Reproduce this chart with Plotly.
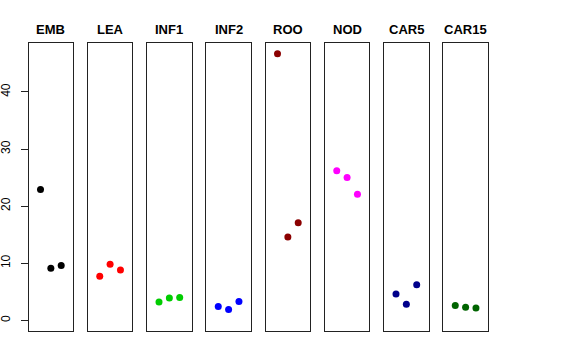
import plotly.graph_objects as go

categories = ["EMB", "LEA", "INF1", "INF2", "ROO", "NOD", "CAR5", "CAR15"]
replicate = [1, 2, 3]
values = {
    "EMB": [22.9, 9.1, 9.6],
    "LEA": [7.7, 9.8, 8.8],
    "INF1": [3.2, 3.9, 4.0],
    "INF2": [2.4, 1.9, 3.3],
    "ROO": [46.7, 14.6, 17.1],
    "NOD": [26.2, 25.0, 22.1],
    "CAR5": [4.6, 2.8, 6.25],
    "CAR15": [2.6, 2.3, 2.15],
}
colors = ["#000000", "#FF0000", "#00CD00", "#0000FF", "#8B0000", "#FF00FF", "#00008B", "#006400"]
y_ticks = [0, 10, 20, 30, 40]

W, H = 576, 360
left0, step, pw = 28.5, 59.25, 44.7
ytop, ybot = 43, 331
y_dom = [(H - ybot) / H, (H - ytop) / H]

fig = go.Figure()
for i, cat in enumerate(categories):
    n = i + 1
    xa = "x" if n == 1 else f"x{n}"
    ya = "y" if n == 1 else f"y{n}"
    fig.add_trace(go.Scatter(
        x=replicate, y=values[cat], mode="markers",
        marker=dict(color=colors[i], size=7, line=dict(width=0)),
        xaxis=xa, yaxis=ya, showlegend=False, hoverinfo="skip"))
    l = left0 + step * i
    xd = [l / W, (l + pw) / W]
    axkey = "xaxis" if n == 1 else f"xaxis{n}"
    aykey = "yaxis" if n == 1 else f"yaxis{n}"
    fig.layout[axkey] = dict(domain=xd, range=[-0.16, 4.16], showgrid=False, zeroline=False,
                             showticklabels=False, ticks="", showline=True, mirror=True,
                             linecolor="#222222", linewidth=1, anchor=ya, fixedrange=True,
                             automargin=False)
    ydict = dict(domain=y_dom, range=[-1.87, 48.57], showgrid=False, zeroline=False,
                 showline=True, mirror=True, linecolor="#222222", linewidth=1,
                 anchor=xa, fixedrange=True, automargin=False)
    if n == 1:
        ydict.update(tickvals=y_ticks, ticktext=[str(v) for v in y_ticks], ticks="outside",
                     ticklen=7, tickcolor="#222222", tickangle=-90, showticklabels=True,
                     tickfont=dict(size=12, color="#000000", family="Liberation Sans, Arial, sans-serif"),
                     ticklabelstandoff=6)
    else:
        ydict.update(showticklabels=False, ticks="")
    fig.layout[aykey] = ydict
    fig.add_annotation(text=f"<b>{cat}</b>", x=(l + pw / 2) / W, y=(H - 29.5) / H,
                       xref="paper", yref="paper", showarrow=False,
                       font=dict(size=13, color="#000000", family="Liberation Sans, Arial, sans-serif"),
                       xanchor="center", yanchor="middle")

fig.update_layout(width=W, height=H, margin=dict(l=0, r=0, t=0, b=0, autoexpand=False),
                  paper_bgcolor="white", plot_bgcolor="white")
fig.write_html("out.html", config={"displayModeBar": False},
               post_script="document.body.style.margin='0';")
